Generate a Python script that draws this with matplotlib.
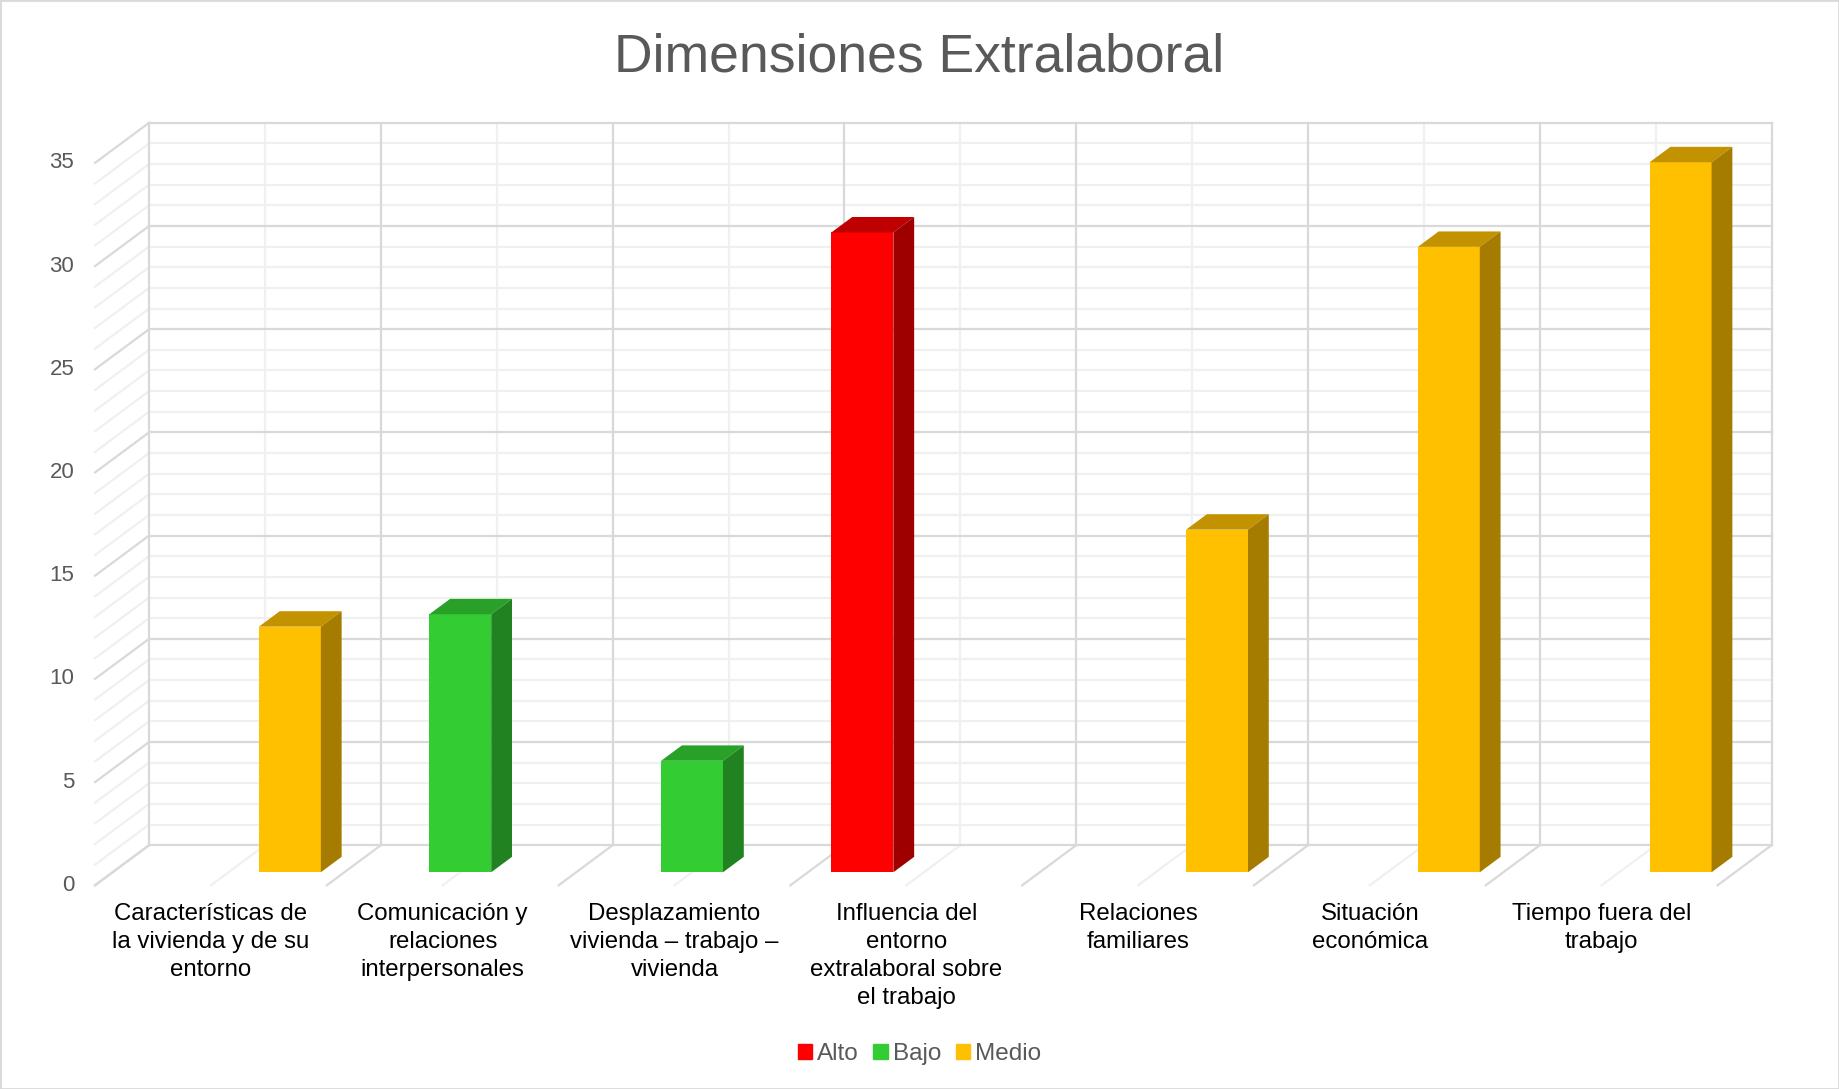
import numpy as np
import matplotlib
matplotlib.use("Agg")
import matplotlib.pyplot as plt
from matplotlib.patches import Polygon, Rectangle, Patch

plt.rcParams['font.family'] = ['Liberation Sans', 'DejaVu Sans']

# datos
categorias = ["Características de\nla vivienda y de su\nentorno",
              "Comunicación y\nrelaciones\ninterpersonales",
              "Desplazamiento\nvivienda – trabajo –\nvivienda",
              "Influencia del\nentorno\nextralaboral sobre\nel trabajo",
              "Relaciones\nfamiliares",
              "Situación\neconómica",
              "Tiempo fuera del\ntrabajo"]
alto = [0, 0, 0, 31.0, 0, 0, 0]
bajo = [0, 12.5, 5.4, 0, 0, 0, 0]
medio = [11.9, 0, 0, 0, 16.6, 30.3, 34.4]
series = ["Alto", "Bajo", "Medio"]
valores = [alto, bajo, medio]
ticks_y = [0, 5, 10, 15, 20, 25, 30, 35]

# colores: frente, tapa, lado
colores = {
    "Alto": ("#FF0000", "#BF0000", "#9E0000"),
    "Bajo": ("#33CC33", "#29A129", "#218221"),
    "Medio": ("#FFC000", "#C39200", "#A67C00"),
}

# perspectiva oblicua (profundidad total en unidades de datos)
DX = 0.233
DY = 1.94
d0, d1 = 0.325, 0.71   # profundidad de las barras
ancho = 0.267
desp = [-0.265, 0.0, 0.265]
ncat = len(categorias)
ymax = 35

fig = plt.figure(figsize=(18.39, 10.89), dpi=100)
ax = fig.add_axes([0, 0, 1, 1])
ax.set_xlim(-0.41, 7.524)
ax.set_ylim(-9.87, 42.89)
ax.axis("off")

mayor = "#D9D9D9"
menor = "#F0F0F0"

# pared del fondo y pared izquierda
for v in range(0, ymax + 1):
    c = mayor if v % 5 == 0 else menor
    z = 2 if v % 5 == 0 else 1
    ax.plot([DX, ncat + DX], [v + DY, v + DY], color=c, lw=1.6, zorder=z)
    ax.plot([0, DX], [v, v + DY], color=c, lw=1.6, zorder=z)

for i in range(0, 2 * ncat + 1):
    x = i * 0.5
    c = mayor if i % 2 == 0 else menor
    z = 2 if i % 2 == 0 else 1
    ax.plot([x + DX, x + DX], [DY, ymax + DY], color=c, lw=1.6, zorder=z)
    ax.plot([x, x + DX], [0, DY], color=c, lw=1.6, zorder=z)

# barras 3D
dd = d1 - d0
for s, (nombre, vals) in enumerate(zip(series, valores)):
    frente, tapa, lado = colores[nombre]
    xs = np.arange(ncat) + 0.5 + desp[s] + d0 * DX
    for x, v in zip(xs, vals):
        if v <= 0:
            continue
        b0 = d0 * DY
        ax.bar(x, v, width=ancho, bottom=b0, color=frente, zorder=5)
        xl, xr = x - ancho / 2, x + ancho / 2
        top = [(xl, v + b0), (xr, v + b0),
               (xr + dd * DX, v + b0 + dd * DY), (xl + dd * DX, v + b0 + dd * DY)]
        side = [(xr, b0), (xr, v + b0),
                (xr + dd * DX, v + b0 + dd * DY), (xr + dd * DX, b0 + dd * DY)]
        ax.add_patch(Polygon(top, closed=True, fc=tapa, ec="none", zorder=5))
        ax.add_patch(Polygon(side, closed=True, fc=lado, ec="none", zorder=5))

# etiquetas eje y
for t in ticks_y:
    ax.text(-0.09, t, str(t), ha="right", va="center", fontsize=16, color="#595959")

# etiquetas de categorias
for i, lab in enumerate(categorias):
    ax.text(i + 0.5, -0.85, lab, ha="center", va="top", fontsize=17.3,
            color="#000000", linespacing=1.36)

fig.text(0.5, 1 - 57 / 1089, "Dimensiones Extralaboral", ha="center", va="center",
         fontsize=38.5, color="#595959")

handles = [Patch(color=colores[n][0]) for n in series]
fig.legend(handles, series, loc="center", bbox_to_anchor=(0.5, 1 - 1054 / 1089),
           ncol=3, frameon=False, fontsize=17.5, handlelength=0.6, handleheight=0.6,
           handletextpad=0.2, columnspacing=0.6, labelcolor="#595959")

fig.patches.append(Rectangle((0, 0), 1, 1, transform=fig.transFigure, fill=False,
                             ec="#D9D9D9", lw=2))

fig.savefig("out.png", dpi=100)
